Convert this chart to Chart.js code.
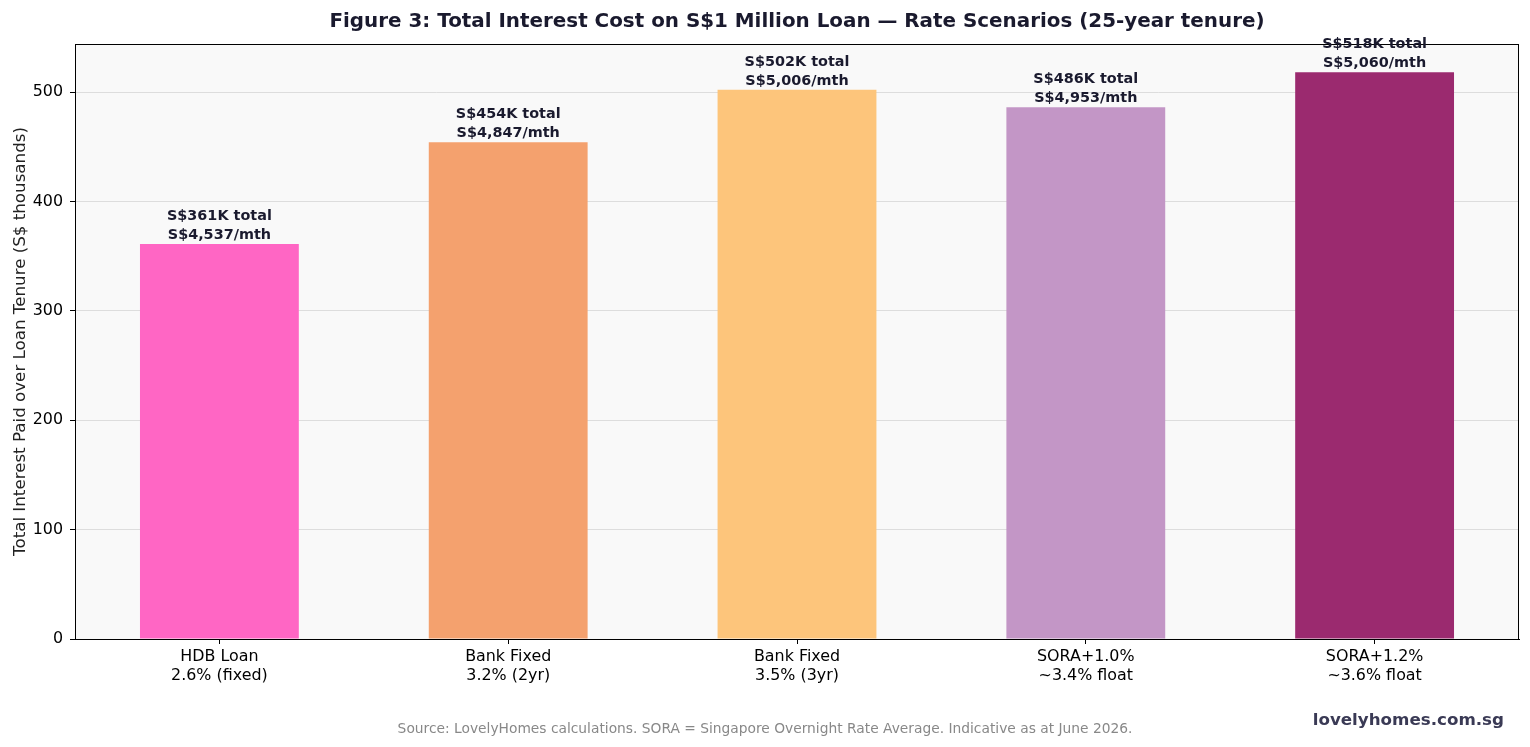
<!DOCTYPE html>
<html>
<head>
<meta charset="utf-8">
<script src="https://cdn.jsdelivr.net/npm/chart.js@4.4.1/dist/chart.umd.min.js"></script>
<style>
  html, body { margin: 0; padding: 0; background: #ffffff; }
  canvas { display: block; }
</style>
</head>
<body>
<canvas id="chart" width="1530" height="747"></canvas>
<script>
// data (S$ thousands of interest over 25 years)
const categories = [
  ['HDB Loan', '2.6% (fixed)'],
  ['Bank Fixed', '3.2% (2yr)'],
  ['Bank Fixed', '3.5% (3yr)'],
  ['SORA+1.0%', '~3.4% float'],
  ['SORA+1.2%', '~3.6% float']
];
const totalInterest = [361, 454, 502, 486, 518];
const monthlyLabels = ['S$4,537/mth', 'S$4,847/mth', 'S$5,006/mth', 'S$4,953/mth', 'S$5,060/mth'];
const barColors = ['#ff66c4', '#f4a16e', '#fdc57b', '#c396c6', '#9b2a6f'];
const yTicks = [0, 100, 200, 300, 400, 500];

const titleText = 'Figure 3: Total Interest Cost on S$1 Million Loan \u2014 Rate Scenarios (25-year tenure)';
const yTitle = 'Total Interest Paid over Loan Tenure (S$ thousands)';
const sourceText = 'Source: LovelyHomes calculations. SORA = Singapore Overnight Rate Average. Indicative as at June 2026.';
const brandText = 'lovelyhomes.com.sg';

const FONT = '"DejaVu Sans", sans-serif';
const dark = '#1a1a2e';

const decor = {
  id: 'decor',
  beforeDraw(chart) {
    const { ctx, chartArea: a } = chart;
    ctx.save();
    ctx.fillStyle = '#f9f9f9';
    ctx.fillRect(a.left, a.top, a.right - a.left, a.bottom - a.top);
    ctx.restore();
  },
  afterDatasetsDraw(chart) {
    const { ctx, chartArea: a } = chart;
    ctx.save();
    // axes frame
    ctx.strokeStyle = '#000';
    ctx.lineWidth = 1;
    ctx.strokeRect(a.left + 0.5, a.top + 0.5, a.right - a.left - 1, a.bottom - a.top);

    // value labels above bars
    const meta = chart.getDatasetMeta(0);
    ctx.fillStyle = dark;
    ctx.font = 'bold 14.4px ' + FONT;
    ctx.textAlign = 'center';
    ctx.textBaseline = 'alphabetic';
    meta.data.forEach((bar, i) => {
      ctx.fillText('S$' + totalInterest[i] + 'K total', bar.x, bar.y - 24);
      ctx.fillText(monthlyLabels[i], bar.x, bar.y - 5);
    });

    // title
    ctx.font = 'bold 19.9px ' + FONT;
    ctx.fillText(titleText, (a.left + a.right) / 2, 27);

    // y axis title
    ctx.save();
    ctx.translate(25, (a.top + a.bottom) / 2);
    ctx.rotate(-Math.PI / 2);
    ctx.font = '16.7px ' + FONT;
    ctx.fillStyle = '#222';
    ctx.fillText(yTitle, 0, 0);
    ctx.restore();

    // footer
    ctx.font = '13.8px ' + FONT;
    ctx.fillStyle = '#888';
    ctx.fillText(sourceText, 765, 733);
    ctx.font = 'bold 16.7px ' + FONT;
    ctx.fillStyle = '#3a3a55';
    ctx.textAlign = 'right';
    ctx.fillText(brandText, 1504, 725);
    ctx.restore();
  }
};

new Chart(document.getElementById('chart').getContext('2d'), {
  type: 'bar',
  data: {
    labels: categories,
    datasets: [{
      data: totalInterest,
      backgroundColor: barColors,
      borderWidth: 0,
      barPercentage: 0.55,
      categoryPercentage: 1.0
    }]
  },
  options: {
    responsive: false,
    animation: false,
    devicePixelRatio: 1,
    layout: { padding: { top: 44, right: 11, left: 0, bottom: 0 } },
    plugins: {
      legend: { display: false },
      tooltip: { enabled: false },
      title: { display: false }
    },
    scales: {
      x: {
        offset: true,
        grid: {
          offset: false,
          drawOnChartArea: false,
          drawTicks: true,
          tickLength: 5,
          tickColor: '#000'
        },
        border: { color: '#000', width: 1 },
        ticks: {
          color: '#000',
          font: { family: FONT, size: 15.9, lineHeight: 1.15 },
          padding: 4,
          maxRotation: 0,
          autoSkip: false
        },
        afterFit(scale) { scale.height = 108; }
      },
      y: {
        min: 0,
        max: 518 * 1.05,
        afterBuildTicks(scale) {
          scale.ticks = yTicks.map(v => ({ value: v }));
        },
        grid: {
          color: '#dddddd',
          lineWidth: 1,
          drawTicks: true,
          tickLength: 5,
          tickColor: '#000'
        },
        border: { color: '#000', width: 1 },
        ticks: {
          color: '#000',
          font: { family: FONT, size: 15.9 },
          padding: 7
        },
        afterFit(scale) { scale.width = 75; }
      }
    }
  },
  plugins: [decor]
});
</script>
</body>
</html>
